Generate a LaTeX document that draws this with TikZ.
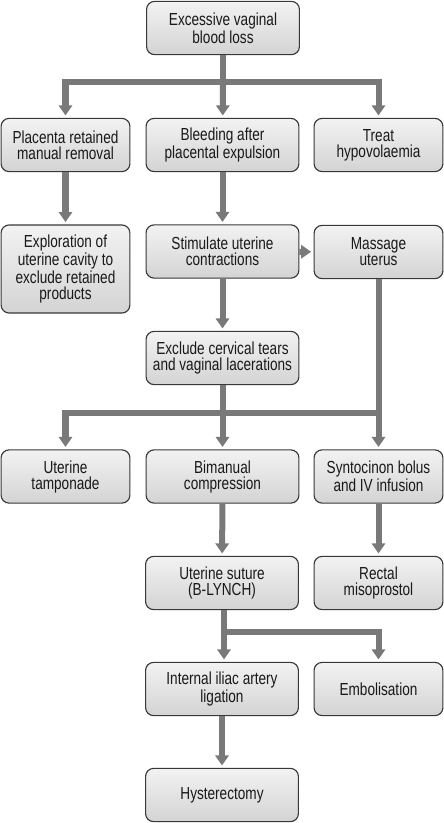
\documentclass[tikz,border=0pt]{standalone}
\usepackage{fontspec}
\setmainfont{Liberation Sans}[FakeStretch=0.78]
\usetikzlibrary{arrows.meta}

\begin{document}
\begin{tikzpicture}[x=0.025cm,y=-0.025cm,
  box/.style={draw=black!78,line width=0.8pt,rounded corners=0.2cm,
    top color=gray!10,bottom color=gray!34,align=center,inner sep=0pt,
    minimum height=1.33cm,text=black!90,
    font=\fontsize{12.4}{11.4}\selectfont},
  narrow/.style={box,minimum width=3.22cm},
  wide/.style={box,minimum width=3.82cm},
  flow/.style={draw=gray!95!black,line width=0.15cm},
  to/.style={flow,-{Triangle[width=0.33cm,length=0.25cm]},shorten >=0.06cm}]
\useasboundingbox (0,0) rectangle (444,823);

\node[wide] (blood) at (223,28) {Excessive vaginal\\blood loss};
\node[narrow] (manual) at (65.5,145) {Placenta retained\\manual removal};
\node[wide] (after) at (222.5,145) {Bleeding after\\placental expulsion};
\node[narrow] (treat) at (378.5,145) {Treat\\hypovolaemia};
\node[narrow,minimum height=2.2cm] (explore) at (65.5,269) {Exploration of\\uterine cavity to\\exclude retained\\products};
\node[wide] (stim) at (222.5,251.5) {Stimulate uterine\\contractions};
\node[narrow] (massage) at (378.5,252) {Massage\\uterus};
\node[wide] (exclude) at (222.5,358) {Exclude cervical tears\\and vaginal lacerations};
\node[narrow] (tampon) at (65.5,476.5) {Uterine\\tamponade};
\node[wide] (biman) at (222.5,476.5) {Bimanual\\compression};
\node[narrow] (synto) at (378.5,476.5) {Syntocinon bolus\\and IV infusion};
\node[wide] (suture) at (222,583) {Uterine suture\\(B-LYNCH)};
\node[narrow] (rectal) at (378.5,583) {Rectal\\misoprostol};
\node[wide] (iliac) at (222,689) {Internal iliac artery\\ligation};
\node[narrow] (embol) at (378.5,689) {Embolisation};
\node[wide] (hyst) at (222,795) {Hysterectomy};

\coordinate (split1) at (223,82);
\coordinate (split2) at (222.5,413);
\coordinate (split3) at (224,632);

\draw[flow] (blood) -- (split1);
\draw[to] (split1) -| (manual);
\draw[to] (split1) -- (after);
\draw[to] (split1) -| (treat);
\draw[to] (manual) -- (explore);
\draw[to] (after) -- (stim);
\draw[to] (stim) -- (massage);
\draw[to] (stim) -- (exclude);

\draw[flow] (exclude) -- (split2);
\draw[to] (split2) -| (tampon);
\draw[to] (split2) -- (biman);
\draw[flow] (split2) -- (split2 -| massage);
\draw[to] (massage) -- (synto);
\draw[to] (biman) -- (suture);
\draw[to] (synto) -- (rectal);

\draw[flow] (suture.south -| split3) -- (split3);
\draw[to] (split3) -- (split3 |- iliac.north);
\draw[to] (split3) -| (embol);
\draw[to] (iliac) -- (hyst);
\end{tikzpicture}
\end{document}
